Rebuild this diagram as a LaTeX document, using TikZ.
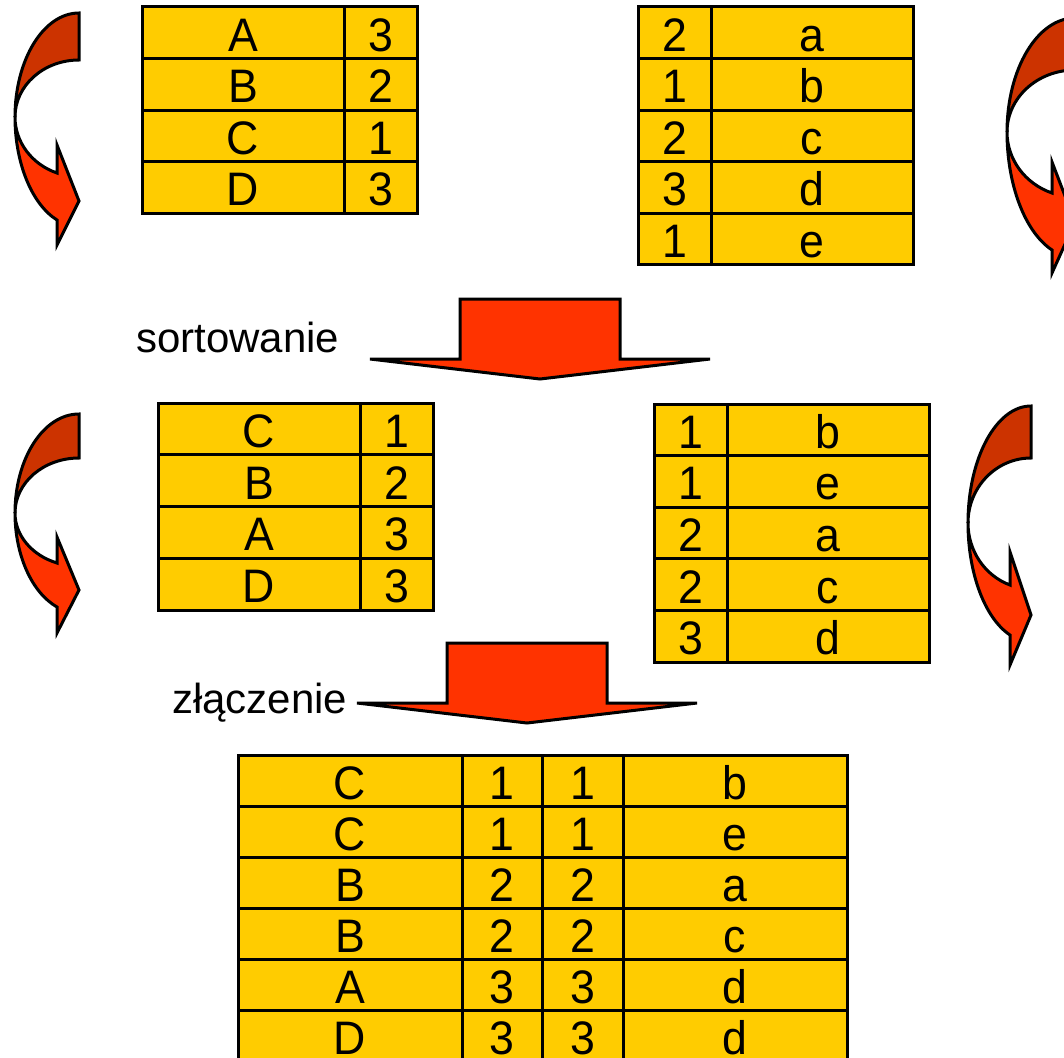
\documentclass[tikz,border=0pt]{standalone}
\usepackage{fontspec}
\setmainfont{Liberation Sans}
\newfontfamily\cellfont[FakeStretch=0.95]{Liberation Sans}
\definecolor{cellfill}{HTML}{FFCC00}
\definecolor{arrowfront}{HTML}{FF3300}
\definecolor{arrowback}{HTML}{CC3300}

\tikzset{
  cell/.style={draw=black, line width=3pt, fill=cellfill, inner sep=0pt,
    text height=37pt, text depth=0pt, font=\cellfont\fontsize{47}{47}\selectfont},
  lbl/.style={inner sep=0pt, font=\fontsize{42}{42}\selectfont},
  bigarrow/.style={draw=black, line width=3pt, fill=arrowfront, line join=miter},
  twistfront/.style={draw=black, line width=3pt, fill=arrowfront, line join=miter},
  twistback/.style={draw=black, line width=3pt, fill=arrowback, line join=miter},
}

% head data: upper barb, inner barb, tip, outer barb, bottom barb
\def\parsehead#1,#2,#3,#4,#5\relax{%
  \def\taUB{#1}\def\taIB{#2}\def\taTip{#3}\def\taOB{#4}\def\taBot{#5}}

% twisted U-turn arrow: left x, right x, barb x, top y, inner top y, middle y, {head data}
\newcommand\twistarrow[7]{%
  \def\taL{#1}\def\taR{#2}\def\taB{#3}\def\taT{#4}\def\taI{#5}\def\taM{#6}%
  \parsehead#7\relax
  \pgfmathsetmacro\taRX{\taR-\taL}%
  \pgfmathsetmacro\taAng{acos((\taB-\taR)/\taRX)}%
  \pgfmathsetmacro\taSin{sin(\taAng)}%
  \pgfmathsetmacro\taRYo{(\taOB-\taM)/\taSin}%
  \pgfmathsetmacro\taRYi{(\taIB-\taM)/\taSin}%
  \pgfmathsetmacro\taRYt{\taM-\taT}%
  \pgfmathsetmacro\taRYit{\taM-\taI}%
  % lower, bright face with the arrow head
  \filldraw[twistfront] (\taL,\taM)
    arc[start angle=180, end angle=\taAng, x radius=\taRX, y radius=\taRYo]
    -- (\taB,\taBot) -- (\taR,\taTip) -- (\taB,\taUB) -- (\taB,\taIB)
    arc[start angle=\taAng, end angle=180, x radius=\taRX, y radius=\taRYi]
    -- cycle;
  % upper, dark face
  \filldraw[twistback] (\taR,\taT)
    arc[start angle=-90, end angle=-180, x radius=\taRX, y radius=\taRYt]
    arc[start angle=180, end angle=270, x radius=\taRX, y radius=\taRYit]
    -- cycle;
}

\begin{document}
\begin{tikzpicture}[x=1pt, y=1pt, yscale=-1]
\path[use as bounding box, clip] (0,0) rectangle (1064,1057);
\fill[white] (0,0) rectangle (1064,1057);

% ---- input tables ----
\foreach \p/\q [count=\r] in {A/3,B/2,C/1,D/3} {
  \pgfmathsetmacro\yc{7+51.5*(\r-0.5)}
  \node[cell, minimum width=202pt, minimum height=51.5pt] (ta-\r-1) at (243,\yc) {\p};
  \node[cell, minimum width=73pt, minimum height=51.5pt] (ta-\r-2) at (380.5,\yc) {\q};
}
\foreach \p/\q [count=\r] in {2/a,1/b,2/c,3/d,1/e} {
  \pgfmathsetmacro\yc{7+51.5*(\r-0.5)}
  \node[cell, minimum width=73pt, minimum height=51.5pt] (tb-\r-1) at (674.5,\yc) {\p};
  \node[cell, minimum width=202pt, minimum height=51.5pt] (tb-\r-2) at (812,\yc) {\q};
}

% ---- sorted tables ----
\foreach \p/\q [count=\r] in {C/1,B/2,A/3,D/3} {
  \pgfmathsetmacro\yc{403+51.75*(\r-0.5)}
  \node[cell, minimum width=202pt, minimum height=51.75pt] (tc-\r-1) at (259,\yc) {\p};
  \node[cell, minimum width=73pt, minimum height=51.75pt] (tc-\r-2) at (396.5,\yc) {\q};
}
\foreach \p/\q [count=\r] in {1/b,1/e,2/a,2/c,3/d} {
  \pgfmathsetmacro\yc{404+51.6*(\r-0.5)}
  \node[cell, minimum width=73pt, minimum height=51.6pt] (td-\r-1) at (690.5,\yc) {\p};
  \node[cell, minimum width=202pt, minimum height=51.6pt] (td-\r-2) at (828,\yc) {\q};
}

% ---- joined table ----
\begin{scope}[every node/.append style={text height=33pt}]
\foreach \p/\q/\s/\t [count=\r] in {C/1/1/b,C/1/1/e,B/2/2/a,B/2/2/c,A/3/3/d,D/3/3/d} {
  \pgfmathsetmacro\yc{755+51*(\r-0.5)}
  \node[cell, minimum width=224pt, minimum height=51pt] (te-\r-1) at (350,\yc) {\p};
  \node[cell, minimum width=80pt, minimum height=51pt] (te-\r-2) at (502,\yc) {\q};
  \node[cell, minimum width=81pt, minimum height=51pt] (te-\r-3) at (582.5,\yc) {\s};
  \node[cell, minimum width=224pt, minimum height=51pt] (te-\r-4) at (735,\yc) {\t};
}
\end{scope}

% ---- step arrows with their labels ----
\node[lbl, anchor=base west] (sortlbl) at (136,352) {sortowanie};
\filldraw[bigarrow] (460,299) -- (620,299) -- (620,359) -- (710,359)
  -- (540,379) -- (370,359) -- (460,359) -- cycle;

\node[lbl, anchor=base west] (joinlbl) at (172,713) {złączenie};
\filldraw[bigarrow] (447,643) -- (607,643) -- (607,703) -- (697,703)
  -- (527,723) -- (357,703) -- (447,703) -- cycle;

% ---- turning arrows beside the tables ----
\twistarrow{15}{79}{57}{13}{60}{117}{145,173,201,220,245}
\twistarrow{1007}{1075}{1052}{18}{70}{132}{162,193,222,250,273}
\twistarrow{15}{79}{57}{414}{458}{513}{537,563,590,607,633}
\twistarrow{968}{1031}{1010}{406}{458}{523}{552,585,615,635,665}
\end{tikzpicture}
\end{document}
